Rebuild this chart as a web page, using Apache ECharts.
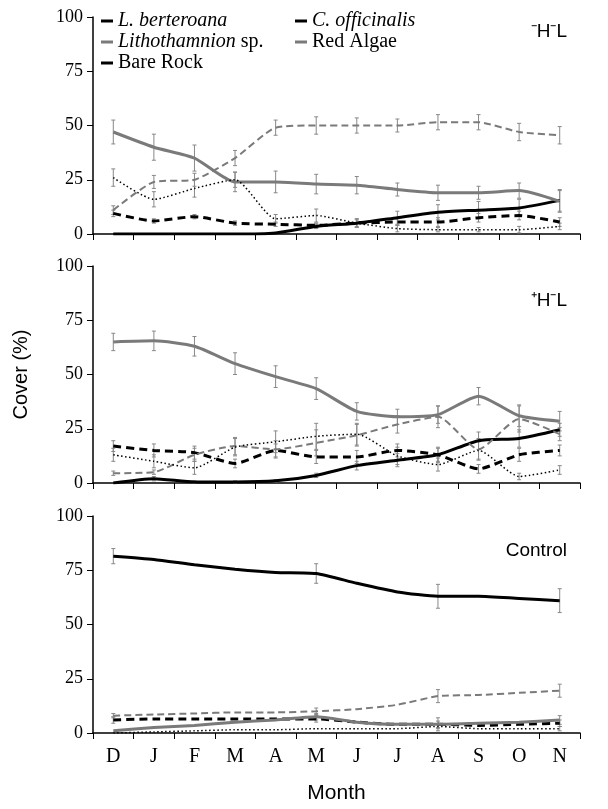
<!DOCTYPE html>
<html>
<head>
<meta charset="utf-8">
<script src="https://cdn.jsdelivr.net/npm/echarts@6/dist/echarts.min.js"></script>
<style>html,body{margin:0;padding:0;background:#fff}#chart{width:608px;height:809px}</style>
</head>
<body>
<div id="chart"></div>
<script>
var months = ['D', 'J', 'F', 'M', 'A', 'M', 'J', 'J', 'A', 'S', 'O', 'N'];
var yTicks = [0, 25, 50, 75, 100];
var panelLabels = ['\u207BH\u207BL', '\u207AH\u207BL', 'Control'];
var seriesNames = ['L. berteroana', 'C. officinalis', 'Lithothamnion sp.', 'Red Algae', 'Bare Rock'];

// 面板1: -H-L
var p1L = [0, 0, 0, 0, 0.5, 3.5, 5, 7.5, 10, 11, 12, 15.5];
var p1C = [9.5, 6, 8, 5, 4.5, 4, 5, 5.5, 5.5, 7.5, 8.5, 5.5];
var p1Li = [47, 40, 35, 24, 24, 23, 22.5, 20.5, 19, 19, 20, 15];
var p1R = [11, 24, 25, 35, 49, 50, 50, 50, 51.5, 51.5, 47, 45.5];
var p1B = [26, 16, 21, 25, 7, 8.5, 5, 2.5, 2, 2, 2, 3.5];
var p1eL = [0, 0, 0, 0, 0, 1, 2, 3, 3.5, 4, 4, 5];
var p1eC = [1.5, 1, 1, 1, 1, 1, 1.5, 1.5, 2, 2, 2, 2];
var p1eLi = [5.5, 6, 6, 4.5, 5, 4.5, 4, 3, 3.5, 3, 3.5, 5];
var p1eR = [2, 3, 3, 3.5, 3.5, 4, 3.5, 3, 3.5, 3.5, 4, 4];
var p1eB = [4, 3.5, 4, 3.5, 2, 3, 2, 1.5, 1, 1, 1.5, 1.5];

// 面板2: +H-L
var p2L = [0, 2, 0.5, 0.5, 1, 3.5, 8, 10.5, 13, 19.5, 20.5, 24.5];
var p2C = [17, 15, 14, 9, 15, 12, 12, 15, 13, 6.5, 13, 15];
var p2Li = [65, 65.5, 63, 55, 49, 43.5, 33, 30.5, 31.5, 40, 31, 28.5];
var p2R = [4.5, 5, 13, 17, 15.5, 18.5, 22, 27, 30.5, 15.5, 29.5, 22.5];
var p2B = [13, 10, 7, 16.5, 19, 21.5, 22.5, 12.5, 8.5, 15, 3, 6];
var p2eL = [0, 1, 0.5, 0.5, 0.5, 1, 2, 3, 3.5, 4, 4, 3];
var p2eC = [2.5, 3, 3, 2, 3, 3, 3, 3, 3, 2, 3, 2.5];
var p2eLi = [4, 4.5, 4.5, 5, 5, 5, 4, 3.5, 4, 4, 5, 4.5];
var p2eR = [1, 1, 3, 4, 4, 6, 5, 4, 5, 5, 6, 3];
var p2eB = [3, 3, 3, 4, 5, 6, 5, 4, 3, 4, 1.5, 2];

// 面板3: Control
var p3L = [81.5, 80, 77.5, 75.5, 74, 73.5, 69, 65, 63, 63, 62, 61];
var p3C = [6, 6.5, 6.5, 6.5, 6.5, 6.5, 5, 4, 4, 3.5, 4, 4.5];
var p3Li = [1, 2.5, 3.5, 5, 6, 7.5, 5, 4, 4, 4.5, 5, 6];
var p3R = [8, 8.5, 9, 9.5, 9.5, 10, 11, 13, 17, 17.5, 18.5, 19.5];
var p3B = [0, 0.5, 1, 1.5, 1.5, 2, 2, 2, 3, 2, 2, 2];
var p3eL = [3.5, 0, 0, 0, 0, 4.5, 0, 0, 5.5, 0, 0, 5.5];
var p3eC = [1.5, 0, 0, 0, 0, 1.5, 0, 0, 3, 0, 0, 1.5];
var p3eLi = [0, 0, 0, 0, 0, 1.5, 0, 0, 1.5, 0, 0, 2];
var p3eR = [1, 0, 0, 0, 0, 1.5, 0, 0, 3, 0, 0, 3];
var p3eB = [0, 0, 0, 0, 0, 0, 0, 0, 1, 0, 0, 1];

var panels = [
    [p1L, p1C, p1Li, p1R, p1B, p1eL, p1eC, p1eLi, p1eR, p1eB],
    [p2L, p2C, p2Li, p2R, p2B, p2eL, p2eC, p2eLi, p2eR, p2eB],
    [p3L, p3C, p3Li, p3R, p3B, p3eL, p3eC, p3eLi, p3eR, p3eB]
];

var styles = [
    { color: '#000', width: 3, type: 'solid' },
    { color: '#000', width: 3, type: [8, 5] },
    { color: '#7a7a7a', width: 3, type: 'solid' },
    { color: '#7a7a7a', width: 2, type: [7, 4] },
    { color: '#000', width: 1.5, type: [1.5, 2.5] }
];

var chart = echarts.init(document.getElementById('chart'));
var gridTops = [17, 266, 516];
var grids = [], xAxes = [], yAxes = [], series = [], titles = [];

function errRender(params, api) {
    var e = api.value(2);
    if (!e) return;
    var x = api.value(0), y = api.value(1);
    var top = api.coord([x, y + e]), bot = api.coord([x, y - e]);
    var st = { stroke: '#888', lineWidth: 1 };
    return {
        type: 'group', children: [
            { type: 'line', shape: { x1: top[0], y1: top[1], x2: bot[0], y2: bot[1] }, style: st },
            { type: 'line', shape: { x1: top[0] - 2, y1: top[1], x2: top[0] + 2, y2: top[1] }, style: st },
            { type: 'line', shape: { x1: bot[0] - 2, y1: bot[1], x2: bot[0] + 2, y2: bot[1] }, style: st }
        ]
    };
}

panels.forEach(function (p, i) {
    grids.push({ left: 93, right: 28, top: gridTops[i], height: 217 });
    xAxes.push({
        type: 'category', gridIndex: i, data: months, boundaryGap: true,
        axisLine: { lineStyle: { color: '#000', width: 1.5 } },
        axisTick: { show: true, length: 6, lineStyle: { color: '#000' } },
        axisLabel: { show: i === 2, color: '#000', fontFamily: 'Liberation Serif', fontSize: 20, margin: 14 },
        name: i === 2 ? 'Month' : '', nameLocation: 'middle', nameGap: 50,
        nameTextStyle: { color: '#000', fontFamily: 'Liberation Sans', fontSize: 21 }
    });
    yAxes.push({
        type: 'value', gridIndex: i, min: 0, max: 100, interval: 25,
        splitLine: { show: false },
        axisLine: { show: true, lineStyle: { color: '#000', width: 1.5 } },
        axisTick: { show: true, length: 6, lineStyle: { color: '#000' } },
        axisLabel: { color: '#000', fontFamily: 'Liberation Serif', fontSize: 18, margin: 10,
            formatter: function (v) { return yTicks.indexOf(v) >= 0 ? String(v) : ''; } },
        name: i === 1 ? 'Cover (%)' : '', nameLocation: 'middle', nameGap: 62, nameRotate: 90,
        nameTextStyle: { color: '#000', fontFamily: 'Liberation Sans', fontSize: 20 }
    });
    titles.push({
        text: panelLabels[i], right: 36, top: gridTops[i] + (i === 0 ? 0 : 20),
        textStyle: { color: '#000', fontFamily: 'Liberation Sans', fontSize: 19, fontWeight: 'normal' }
    });
    for (var k = 0; k < 5; k++) {
        var vals = p[k], errs = p[k + 5];
        series.push({
            name: seriesNames[k], type: 'line', xAxisIndex: i, yAxisIndex: i,
            data: vals, symbol: 'none', smooth: 0.2, lineStyle: styles[k],
            itemStyle: { color: styles[k].color }, z: 3
        });
        series.push({
            type: 'custom', xAxisIndex: i, yAxisIndex: i, renderItem: errRender, z: 2,
            data: vals.map(function (v, j) { return [j, v, errs[j]]; })
        });
    }
});

function fmt(name) {
    if (name === 'L. berteroana' || name === 'C. officinalis') return '{i|' + name + '}';
    if (name === 'Lithothamnion sp.') return '{i|Lithothamnion} sp.';
    return name;
}
var legText = { color: '#000', fontFamily: 'Liberation Serif', fontSize: 20, rich: { i: { fontStyle: 'italic', fontFamily: 'Liberation Serif', fontSize: 20 } } };
var legBase = { top: 6, orient: 'vertical', itemGap: 1, itemWidth: 12, itemHeight: 3, icon: 'rect', formatter: fmt, textStyle: legText };

chart.setOption({
    backgroundColor: '#fff',
    title: titles,
    legend: [
        Object.assign({ left: 96, data: ['L. berteroana', 'Lithothamnion sp.', 'Bare Rock'] }, legBase),
        Object.assign({ left: 290, data: ['C. officinalis', 'Red Algae'] }, legBase)
    ],
    grid: grids,
    xAxis: xAxes,
    yAxis: yAxes,
    series: series
});
</script>
</body>
</html>
